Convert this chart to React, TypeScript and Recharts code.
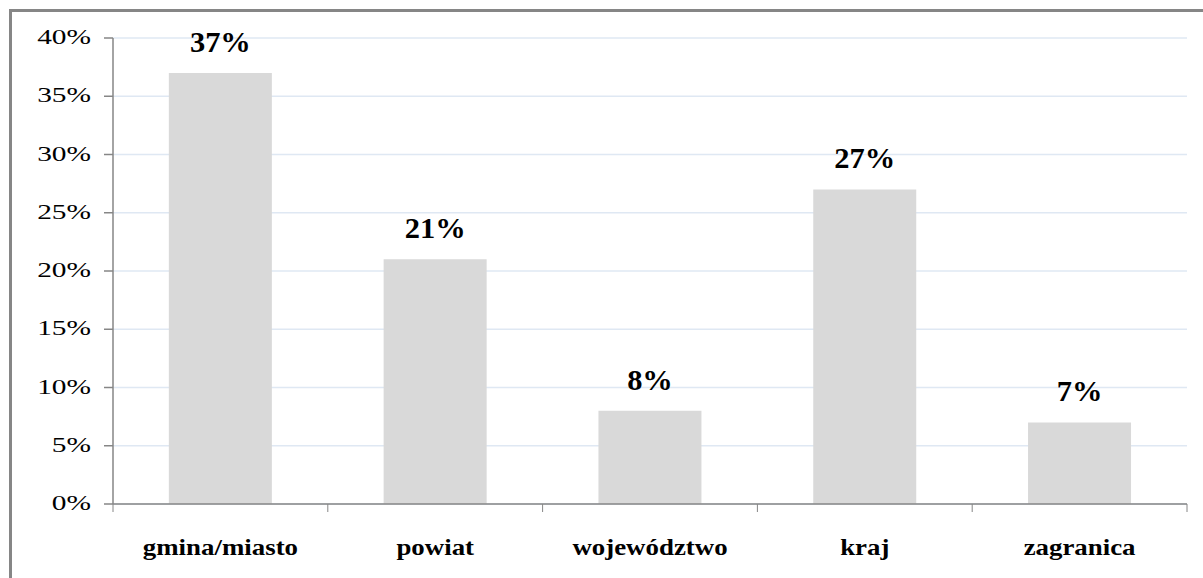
import { Bar, BarChart, CartesianGrid, LabelList, XAxis, YAxis } from "recharts";

const categories = ["gmina/miasto", "powiat", "województwo", "kraj", "zagranica"];
const shares = [37, 21, 8, 27, 7];
const yTicks = [0, 5, 10, 15, 20, 25, 30, 35, 40];

const data = categories.map((name, i) => ({ name, value: shares[i] }));

const FONT = "Liberation Serif, Tinos, Times New Roman, serif";
const AXIS = "#868686";

function YTick(props: any) {
  const { x, y, payload } = props;
  return (
    <text
      transform={`translate(${x} ${y + 6}) scale(1.4 1)`}
      textAnchor="end"
      style={{ fontFamily: FONT, fontSize: 21 }}
      fill="#000"
    >
      {payload.value}%
    </text>
  );
}

function XTick(props: any) {
  const { x, y, payload, width, visibleTicksCount, index } = props;
  const band = width / visibleTicksCount;
  const left = x - band / 2;
  const right = x + band / 2;
  return (
    <g>
      <line x1={left} x2={left} y1={y - 8} y2={y} stroke={AXIS} strokeWidth={1} />
      {index === visibleTicksCount - 1 && (
        <line x1={right} x2={right} y1={y - 8} y2={y} stroke={AXIS} strokeWidth={1} />
      )}
      <text
        transform={`translate(${x} ${y + 43}) scale(1.12 1)`}
        textAnchor="middle"
        style={{ fontFamily: FONT, fontSize: 24, fontWeight: "bold" }}
        fill="#000"
      >
        {payload.value}
      </text>
    </g>
  );
}

function ValueLabel(props: any) {
  const { x, y, width, value } = props;
  return (
    <text
      transform={`translate(${x + width / 2} ${y - 21}) scale(1.05 1)`}
      textAnchor="middle"
      style={{ fontFamily: FONT, fontSize: 29, fontWeight: "bold" }}
      fill="#000"
    >
      {value}%
    </text>
  );
}

export default function App() {
  return (
    <div style={{ position: "absolute", left: 0, top: 0, width: 1203, height: 578, background: "#fff" }}>
      <div
        style={{
          position: "absolute",
          left: 9,
          top: 9,
          right: 0,
          bottom: 0,
          borderLeft: `3px solid ${AXIS}`,
          borderTop: `3px solid ${AXIS}`,
        }}
      />
      <div style={{ position: "absolute", left: 0, top: 0 }}>
        <BarChart
          width={1203}
          height={578}
          data={data}
          margin={{ top: 38, right: 16, bottom: 0, left: 33 }}
          barCategoryGap="26%"
        >
          <CartesianGrid horizontal vertical={false} stroke="#dfe8f3" strokeWidth={1.5} />
          <XAxis
            dataKey="name"
            height={74}
            axisLine={{ stroke: AXIS, strokeWidth: 1.5 }}
            tickLine={false}
            tickSize={8}
            tickMargin={0}
            interval={0}
            tick={<XTick />}
          />
          <YAxis
            width={80}
            domain={[0, 40]}
            ticks={yTicks}
            interval={0}
            axisLine={{ stroke: AXIS, strokeWidth: 1.5 }}
            tickLine={{ stroke: AXIS, strokeWidth: 1.5 }}
            tickSize={9}
            tickMargin={13}
            tick={<YTick />}
          />
          <Bar dataKey="value" fill="#d9d9d9" isAnimationActive={false}>
            <LabelList dataKey="value" content={<ValueLabel />} />
          </Bar>
        </BarChart>
      </div>
    </div>
  );
}
